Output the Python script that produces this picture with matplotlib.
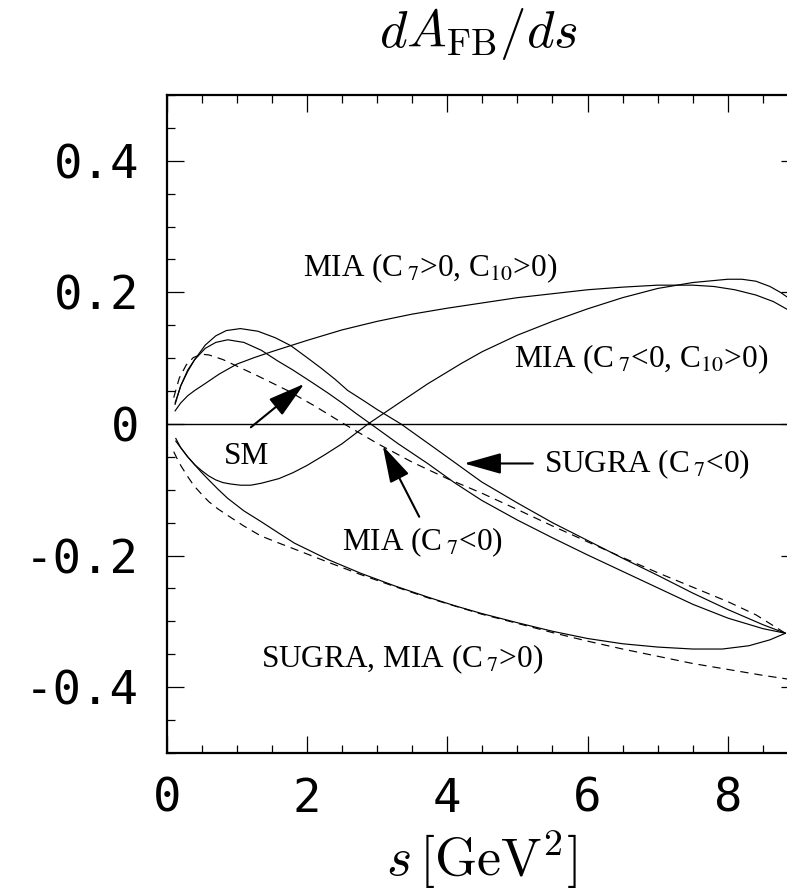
import numpy as np
import matplotlib
matplotlib.use("Agg")
import matplotlib.pyplot as plt
from matplotlib.ticker import MultipleLocator, FixedLocator

# forward-backward asymmetry curves, s in GeV^2
s_c7pos_c10pos = [0.12, 0.2, 0.3, 0.4, 0.5, 0.75, 1.0, 1.25, 1.5, 2.0, 2.5, 3.0,
                  3.5, 4.0, 4.5, 5.0, 5.5, 6.0, 6.5, 7.0, 7.5, 7.8, 8.1, 8.4,
                  8.65, 8.9]
a_c7pos_c10pos = [0.020, 0.032, 0.043, 0.051, 0.058, 0.076, 0.091, 0.101, 0.110,
                  0.127, 0.143, 0.156, 0.167, 0.176, 0.184, 0.192, 0.198, 0.204,
                  0.208, 0.211, 0.211, 0.209, 0.204, 0.196, 0.186, 0.171]

s_c7neg_c10pos = [0.13, 0.2, 0.3, 0.4, 0.5, 0.6, 0.7, 0.8, 0.9, 1.05, 1.2, 1.35,
                  1.6, 1.8, 2.0, 2.25, 2.5, 2.87, 3.3, 3.72, 4.2, 4.5, 5.0, 5.5,
                  6.0, 6.5, 7.0, 7.5, 7.8, 8.0, 8.2, 8.4, 8.6, 8.75, 8.9]
a_c7neg_c10pos = [-0.022, -0.036, -0.050, -0.062, -0.071, -0.079, -0.085, -0.089,
                  -0.091, -0.093, -0.093, -0.090, -0.083, -0.074, -0.063, -0.047,
                  -0.030, 0.0, 0.031, 0.061, 0.092, 0.110, 0.135, 0.156, 0.175,
                  0.192, 0.206, 0.215, 0.218, 0.220, 0.220, 0.217, 0.209, 0.200,
                  0.189]

s_sugra_neg = [0.12, 0.2, 0.3, 0.4, 0.55, 0.7, 0.85, 1.05, 1.3, 1.55, 1.77, 2.0,
               2.2, 2.4, 2.58, 2.8, 3.0, 3.34, 3.8, 4.1, 4.49, 5.0, 5.5, 6.0,
               6.5, 7.0, 7.5, 8.0, 8.5, 8.82]
a_sugra_neg = [0.030, 0.058, 0.080, 0.098, 0.120, 0.134, 0.142, 0.145, 0.141,
               0.131, 0.119, 0.101, 0.085, 0.068, 0.051, 0.036, 0.022, 0.0,
               -0.035, -0.058, -0.088, -0.120, -0.150, -0.177, -0.204, -0.230,
               -0.257, -0.282, -0.305, -0.318]

s_mia_neg = [0.12, 0.2, 0.3, 0.4, 0.55, 0.7, 0.87, 1.1, 1.35, 1.58, 1.8, 2.06,
             2.3, 2.5, 2.7, 2.91, 3.3, 3.72, 4.1, 4.49, 5.0, 5.5, 6.0, 6.5, 7.0,
             7.5, 8.0, 8.5, 8.82]
a_mia_neg = [0.032, 0.058, 0.082, 0.098, 0.115, 0.124, 0.128, 0.124, 0.112,
             0.096, 0.082, 0.064, 0.047, 0.032, 0.016, 0.0, -0.030, -0.060,
             -0.089, -0.116, -0.146, -0.173, -0.199, -0.224, -0.249, -0.274,
             -0.295, -0.311, -0.318]

s_sm = [0.1, 0.18, 0.28, 0.38, 0.5, 0.6, 0.8, 1.0, 1.3, 1.72, 2.1, 2.53, 3.01,
        3.5, 4.0, 4.49, 5.0, 5.5, 6.0, 6.5, 7.0, 7.5, 8.0, 8.4, 8.82]
a_sm = [0.040, 0.070, 0.090, 0.101, 0.106, 0.105, 0.098, 0.088, 0.073, 0.051,
        0.028, 0.0, -0.030, -0.058, -0.083, -0.105, -0.130, -0.155, -0.179,
        -0.203, -0.226, -0.248, -0.270, -0.290, -0.318]

s_c7pos = [0.13, 0.2, 0.3, 0.4, 0.5, 0.6, 0.73, 0.87, 1.1, 1.34, 1.6, 1.82, 2.3,
           2.77, 3.25, 3.72, 4.1, 4.49, 5.0, 5.5, 6.0, 6.5, 7.0, 7.5, 7.92, 8.3,
           8.6, 8.82]
a_c7pos = [-0.026, -0.036, -0.050, -0.062, -0.074, -0.085, -0.099, -0.113,
           -0.132, -0.148, -0.166, -0.181, -0.206, -0.227, -0.246, -0.263,
           -0.276, -0.288, -0.302, -0.315, -0.326, -0.334, -0.339, -0.342,
           -0.342, -0.337, -0.328, -0.318]

s_c7pos_dash = [0.1, 0.15, 0.2, 0.3, 0.39, 0.5, 0.6, 0.73, 0.87, 1.1, 1.34, 1.6,
                1.82, 2.3, 2.77, 3.25, 3.72, 4.49, 5.0, 5.5, 6.0, 6.5, 7.0, 7.5,
                8.0, 8.5, 9.0]
a_c7pos_dash = [-0.042, -0.053, -0.063, -0.080, -0.094, -0.107, -0.118, -0.129,
                -0.139, -0.155, -0.170, -0.181, -0.190, -0.210, -0.229, -0.247,
                -0.264, -0.289, -0.303, -0.317, -0.330, -0.342, -0.353, -0.364,
                -0.373, -0.382, -0.390]

y_ticks = [-0.4, -0.2, 0.0, 0.2, 0.4]
y_ticklabels = ["-0.4", "-0.2", "0", "0.2", "0.4"]
x_ticks = [0, 2, 4, 6, 8]

W, H = 787, 890
fig = plt.figure(figsize=(W / 100, H / 100), dpi=100)
ax = fig.add_axes([166.7 / W, 1 - 753 / H, (798 - 166.7) / W, (753 - 95) / H])

line_kw = dict(color="black", lw=0.85)
dash_kw = dict(color="black", lw=0.85, ls=(0, (7, 5)))

ax.axhline(0, color="black", lw=1.0)
ax.plot(s_c7pos_c10pos, a_c7pos_c10pos, **line_kw)
ax.plot(s_c7neg_c10pos, a_c7neg_c10pos, **line_kw)
ax.plot(s_sugra_neg, a_sugra_neg, **line_kw)
ax.plot(s_mia_neg, a_mia_neg, **line_kw)
ax.plot(s_sm, a_sm, **dash_kw)
ax.plot(s_c7pos, a_c7pos, **line_kw)
ax.plot(s_c7pos_dash, a_c7pos_dash, **dash_kw)

ax.set_xlim(0, 9)
ax.set_ylim(-0.5, 0.5)

ax.xaxis.set_major_locator(FixedLocator(x_ticks))
ax.xaxis.set_minor_locator(MultipleLocator(0.5))
ax.yaxis.set_major_locator(FixedLocator(y_ticks))
ax.yaxis.set_minor_locator(MultipleLocator(0.05))
ax.set_yticklabels(y_ticklabels)

ax.tick_params(which="both", direction="in", top=True, right=True, width=0.9)
ax.tick_params(which="major", length=12)
ax.tick_params(which="minor", length=6)
ax.tick_params(axis="y", which="major", pad=20)
ax.tick_params(axis="x", which="major", pad=17)
for lab in ax.get_xticklabels() + ax.get_yticklabels():
    lab.set_fontfamily("DejaVu Sans Mono")
    lab.set_fontsize(34)
for sp in ax.spines.values():
    sp.set_linewidth(1.6)

# curve labels
lab_kw = dict(fontfamily="Liberation Serif", math_fontfamily="stix",
              fontsize=22.5, ha="center", va="baseline")
ax.text(3.76, 0.224, r"MIA (C$\,_7$>0, C$_{10}$>0)", **lab_kw)
ax.text(6.77, 0.086, r"MIA (C$\,_7$<0, C$_{10}$>0)", **lab_kw)
ax.text(1.14, -0.0605, "SM", **lab_kw)
ax.text(6.84, -0.073, r"SUGRA (C$\,_7$<0)", **lab_kw)
ax.text(3.64, -0.192, r"MIA (C$\,_7$<0)", **lab_kw)
ax.text(3.36, -0.369, r"SUGRA, MIA (C$\,_7$>0)", **lab_kw)

arrow_kw = dict(arrowstyle="-|>,head_length=2.3,head_width=0.65",
                mutation_scale=10, lw=1.5, color="black",
                shrinkA=0, shrinkB=0)
ax.annotate("", xy=(1.96, 0.061), xytext=(1.2, -0.005), arrowprops=arrow_kw)
ax.annotate("", xy=(3.08, -0.033), xytext=(3.6, -0.141), arrowprops=arrow_kw)
ax.annotate("", xy=(4.24, -0.060), xytext=(5.22, -0.060), arrowprops=arrow_kw)

mid = (166.7 + 797) / 2 / W
fig.text(mid - 4 / W, 1 - 47 / H, r"$dA_{\rm FB}/ds$", fontsize=38,
         math_fontfamily="cm", ha="center", va="baseline")
fig.text(mid, 1 - 876 / H, r"$s\,[{\rm GeV}^2]$", fontsize=39,
         math_fontfamily="cm", ha="center", va="baseline")

fig.savefig("out.png", dpi=100)
